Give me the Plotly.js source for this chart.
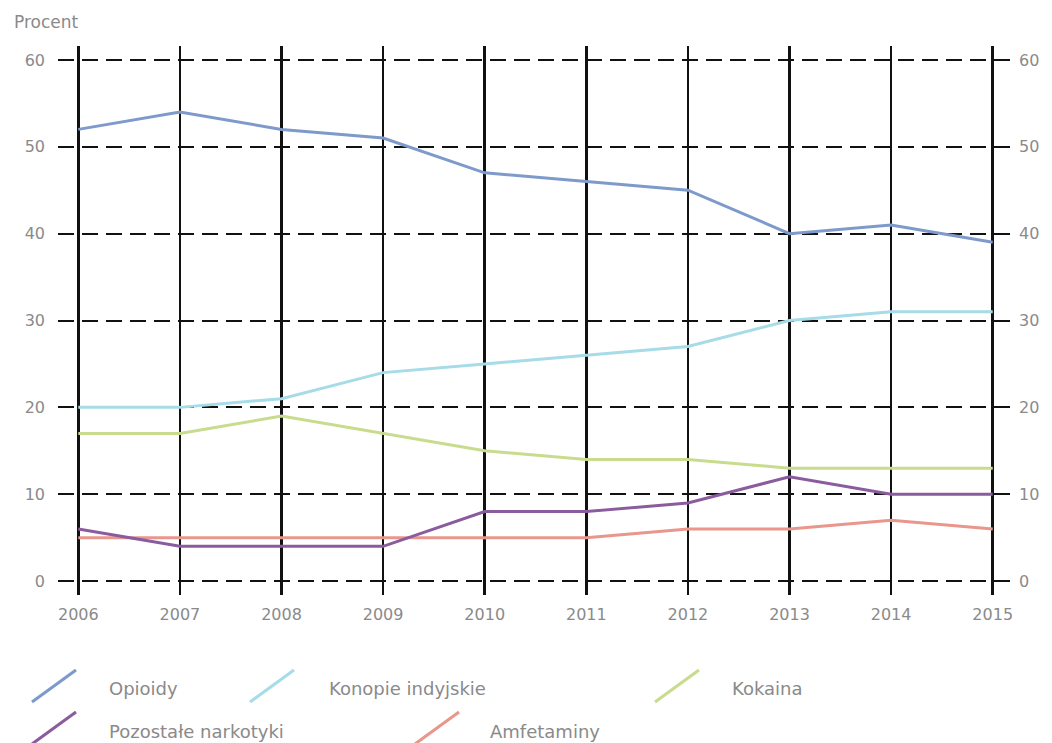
<!DOCTYPE html>
<html>
<head>
<meta charset="utf-8">
<script src="https://cdn.plot.ly/plotly-3.0.1.min.js"></script>
<style>
  html, body { margin: 0; padding: 0; background: #ffffff; }
  #chart { width: 1052px; height: 743px; }
</style>
</head>
<body>
<div id="chart"></div>
<script>
const years = [2006, 2007, 2008, 2009, 2010, 2011, 2012, 2013, 2014, 2015];
const opioidy = [52, 54, 52, 51, 47, 46, 45, 40, 41, 39];
const konopie = [20, 20, 21, 24, 25, 26, 27, 30, 31, 31];
const kokaina = [17, 17, 19, 17, 15, 14, 14, 13, 13, 13];
const pozostale = [6, 4, 4, 4, 8, 8, 9, 12, 10, 10];
const amfetaminy = [5, 5, 5, 5, 5, 5, 6, 6, 7, 6];
const seriesNames = ["Opioidy", "Konopie indyjskie", "Kokaina", "Pozostałe narkotyki", "Amfetaminy"];
const yTicks = [0, 10, 20, 30, 40, 50, 60];

const colors = ["#7d9acb", "#a6dbe8", "#c9dc8e", "#8a5c9e", "#e9968c"];
const seriesData = [opioidy, konopie, kokaina, amfetaminy, pozostale];
const seriesIdx = [0, 1, 2, 4, 3];

const W = 1052, H = 743;
const M = {l: 58, r: 40, t: 46, b: 148};
const pw = W - M.l - M.r, ph = H - M.t - M.b;
const px = x => (x - M.l) / pw;
const py = y => (H - M.b - y) / ph;

const traces = seriesIdx.map((si, k) => ({
  x: years, y: seriesData[k], name: seriesNames[si], type: 'scatter', mode: 'lines',
  line: {color: colors[si], width: 3}, hoverinfo: 'skip'
}));
// mirror axis on the right
traces.push({x: years, y: opioidy, yaxis: 'y2', type: 'scatter', mode: 'lines',
  line: {width: 0, color: 'rgba(0,0,0,0)'}, hoverinfo: 'skip', showlegend: false});

const textColor = '#8a8a8a';
const fontFam = 'DejaVu Sans, Liberation Sans, sans-serif';

// legend (custom, diagonal strokes)
const legendItems = [
  {i: 0, sx: 32, tx: 107, row: 0},
  {i: 1, sx: 250, tx: 327, row: 0},
  {i: 2, sx: 655, tx: 730, row: 0},
  {i: 3, sx: 32, tx: 107, row: 1},
  {i: 4, sx: 415, tx: 488, row: 1}
];
const shapes = [], annotations = [];
legendItems.forEach(it => {
  const yTop = it.row === 0 ? 670 : 712;
  const yBot = yTop + 32;
  shapes.push({type: 'line', xref: 'paper', yref: 'paper',
    x0: px(it.sx), y0: py(yBot), x1: px(it.sx + 44), y1: py(yTop),
    line: {color: colors[it.i], width: 3}});
  annotations.push({xref: 'paper', yref: 'paper', x: px(it.tx), y: py(yTop + 19),
    xanchor: 'left', yanchor: 'middle', showarrow: false, text: seriesNames[it.i],
    font: {family: fontFam, size: 18, color: textColor}});
});
annotations.push({xref: 'paper', yref: 'paper', x: px(12), y: py(22),
  xanchor: 'left', yanchor: 'middle', showarrow: false, text: 'Procent',
  font: {family: fontFam, size: 17, color: textColor}});

const yaxisBase = {
  range: [-1.6, 61.6], tickvals: yTicks, ticktext: yTicks.map(String),
  showline: false, zeroline: false, ticks: '',
  tickfont: {family: fontFam, size: 16, color: textColor}, fixedrange: true
};

const layout = {
  width: W, height: H, margin: M,
  paper_bgcolor: '#ffffff', plot_bgcolor: '#ffffff',
  showlegend: false,
  xaxis: {
    range: [2005.8, 2015.19], tickvals: years, ticktext: years.map(String),
    showgrid: true, gridcolor: '#111111', gridwidth: 2.5,
    zeroline: false, showline: false, ticks: '', ticklabelstandoff: 8,
    tickfont: {family: fontFam, size: 16, color: textColor}
  },
  yaxis: Object.assign({}, yaxisBase, {
    showgrid: true, gridcolor: '#111111', gridwidth: 2, griddash: '16px,8px',
    ticklabelstandoff: 12
  }),
  yaxis2: Object.assign({}, yaxisBase, {
    overlaying: 'y', side: 'right', showgrid: false, ticklabelstandoff: 6
  }),
  shapes: shapes,
  annotations: annotations
};

Plotly.newPlot('chart', traces, layout, {displayModeBar: false, staticPlot: true});
</script>
</body>
</html>
